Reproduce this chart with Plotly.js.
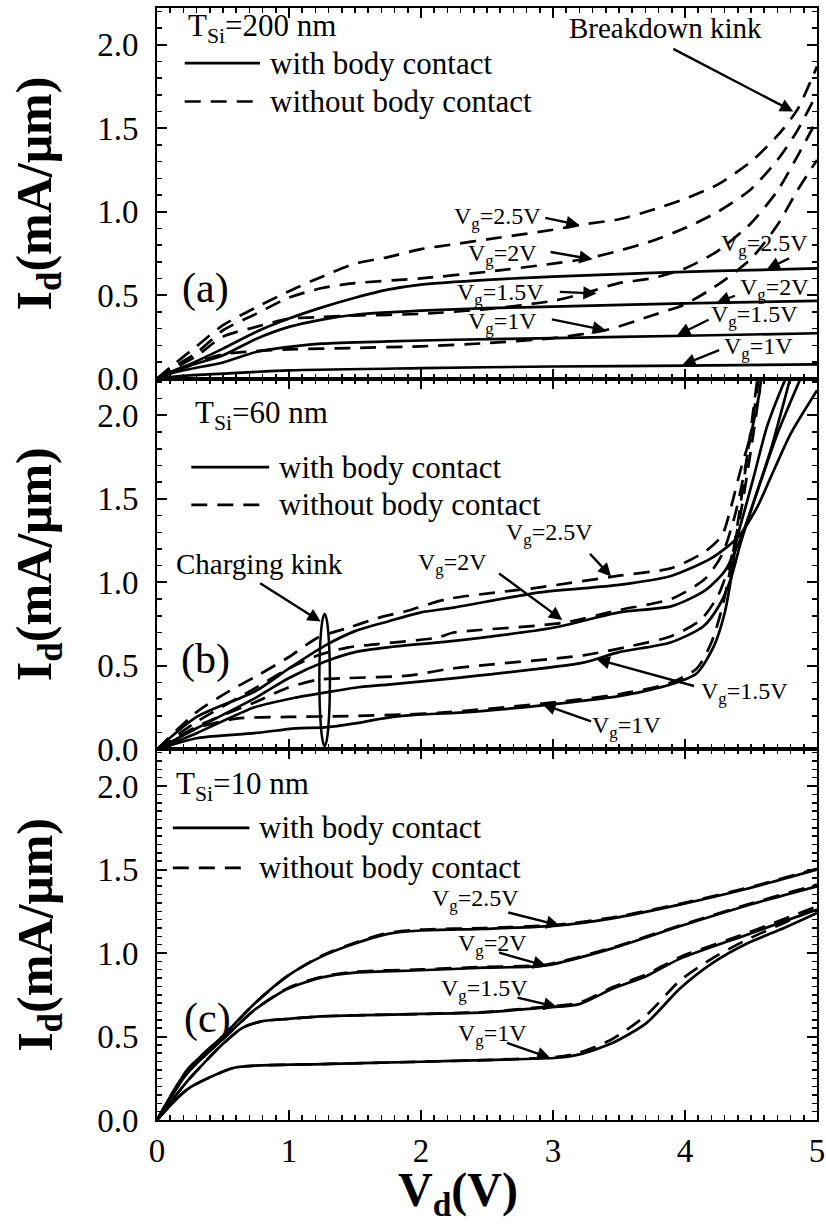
<!DOCTYPE html>
<html>
<head>
<meta charset="utf-8">
<script src="https://cdn.plot.ly/plotly-3.0.1.min.js"></script>
<style>html,body{margin:0;padding:0;background:#fff;}#chart{width:826px;height:1229px;}</style>
</head>
<body>
<div id="chart"></div>
<script>
// ---------- Panel (a): T_Si = 200 nm ----------
const a_bc_1_x  = [0,0.1,0.25,0.5,1,2,3,4,5];
const a_bc_1_y  = [0,0.01,0.02,0.03,0.05,0.063,0.073,0.078,0.085];
const a_bc_15_x = [0,0.1,0.25,0.5,0.75,1,1.25,1.75,2.25,3,4,5];
const a_bc_15_y = [0,0.03,0.058,0.097,0.16,0.19,0.21,0.223,0.233,0.243,0.257,0.272];
const a_bc_2_x  = [0,0.1,0.25,0.5,0.75,1,1.25,1.5,2,2.5,3,4,5];
const a_bc_2_y  = [0,0.034,0.078,0.14,0.238,0.31,0.354,0.383,0.407,0.422,0.432,0.451,0.466];
const a_bc_25_x = [0,0.1,0.25,0.5,0.75,1,1.25,1.5,1.75,2,2.5,3,3.5,4,4.5,5];
const a_bc_25_y = [0,0.039,0.087,0.18,0.28,0.36,0.427,0.485,0.533,0.563,0.592,0.611,0.626,0.64,0.65,0.66];

const a_nb_25_x = [0,0.1,0.3,0.5,0.75,1,1.25,1.5,1.75,2,2.25,2.5,3,3.25,3.5,3.75,4,4.25,4.5,4.7,4.85,5];
const a_nb_25_y = [0,0.068,0.194,0.32,0.427,0.524,0.611,0.689,0.728,0.776,0.805,0.834,0.892,0.926,0.955,1.01,1.077,1.164,1.3,1.455,1.61,1.87];
const a_nb_2_x  = [0,0.1,0.3,0.5,0.75,1,1.25,1.5,2,2.5,3,3.25,3.5,3.75,4,4.25,4.5,4.7,4.85,5];
const a_nb_2_y  = [0,0.058,0.155,0.29,0.388,0.485,0.543,0.572,0.601,0.64,0.689,0.718,0.766,0.825,0.902,1.0,1.135,1.31,1.484,1.71];
const a_nb_15_x = [0,0.1,0.3,0.5,0.75,1,1.25,1.5,2,2.5,3,3.25,3.5,3.75,4,4.25,4.5,4.7,4.85,5];
const a_nb_15_y = [0,0.048,0.136,0.252,0.31,0.359,0.369,0.378,0.388,0.417,0.466,0.514,0.572,0.601,0.66,0.766,0.931,1.125,1.33,1.55];
const a_nb_1_x  = [0,0.1,0.3,0.5,0.75,1,1.5,2,2.5,3,3.4,3.75,4,4.25,4.5,4.7,4.85,5];
const a_nb_1_y  = [0,0.039,0.097,0.146,0.165,0.175,0.184,0.194,0.213,0.243,0.291,0.378,0.446,0.563,0.718,0.92,1.125,1.31];

// ---------- Panel (b): T_Si = 60 nm ----------
const b_bc_25_x = [0,0.3,0.75,1,1.27,1.5,1.75,2,2.25,2.9,3.5,3.9,4.2,4.4,4.55,4.65,4.8,5];
const b_bc_25_y = [0,0.194,0.35,0.485,0.62,0.708,0.766,0.82,0.849,0.94,0.985,1.04,1.145,1.27,1.455,1.63,1.89,2.15];
const b_nb_25_x = [0,0.3,0.55,0.77,1,1.22,1.45,1.67,1.9,2.2,2.9,3.5,3.9,4.15,4.28,4.35,4.42,4.5,4.6];
const b_nb_25_y = [0,0.223,0.35,0.446,0.553,0.67,0.728,0.786,0.83,0.9,0.97,1.04,1.086,1.183,1.28,1.455,1.67,1.89,2.28];
const b_bc_2_x  = [0,0.3,0.75,1,1.27,1.5,1.75,2.25,3,3.5,3.9,4.15,4.3,4.42,4.55,4.7,4.88];
const b_bc_2_y  = [0,0.126,0.31,0.427,0.524,0.582,0.611,0.65,0.728,0.82,0.858,0.95,1.067,1.26,1.55,1.89,2.23];
const b_nb_2_x  = [0,0.3,0.77,1,1.22,1.45,1.67,2.13,2.24,3.07,3.5,3.9,4.15,4.28,4.38,4.47,4.56];
const b_nb_2_y  = [0,0.165,0.378,0.485,0.563,0.611,0.63,0.67,0.698,0.757,0.834,0.902,1.02,1.164,1.407,1.746,2.23];
const b_bc_15_x = [0,0.3,0.74,1.05,1.27,1.5,1.75,2.26,3.23,3.5,3.89,4.14,4.26,4.35,4.42,4.55,4.65,4.8];
const b_bc_15_y = [0,0.097,0.252,0.31,0.34,0.369,0.388,0.427,0.519,0.582,0.64,0.737,0.863,1.028,1.232,1.552,1.795,2.23];
const b_nb_15_x = [0,0.3,0.77,0.99,1.22,1.45,1.9,2.24,3.23,3.6,3.9,4.12,4.25,4.34,4.42,4.5,4.58];
const b_nb_15_y = [0,0.136,0.291,0.369,0.417,0.427,0.441,0.485,0.563,0.62,0.679,0.776,0.92,1.115,1.407,1.795,2.23];
const b_bc_1_x  = [0,0.31,0.74,1.05,1.27,1.5,1.75,2,2.26,2.9,3.51,3.89,4.09,4.22,4.3,4.35,4.39,4.45,4.52,4.62,4.73,4.78];
const b_bc_1_y  = [0,0.068,0.097,0.126,0.131,0.155,0.19,0.209,0.218,0.262,0.32,0.388,0.456,0.62,0.815,1.028,1.25,1.426,1.63,1.93,2.16,2.25];
const b_nb_1_x  = [0,0.3,0.6,1,1.45,1.9,2.13,2.9,3.5,3.89,4.09,4.2,4.28,4.34,4.4,4.47,4.55];
const b_nb_1_y  = [0,0.126,0.184,0.194,0.199,0.209,0.218,0.272,0.33,0.398,0.485,0.64,0.844,1.067,1.358,1.746,2.23];

// ---------- Panel (c): T_Si = 10 nm ----------
const c_bc_1_x  = [0,0.23,0.57,0.74,1.25,2,2.48,3.03,3.2,3.45,3.71,3.96,4.21,4.47,4.75,5];
const c_bc_1_y  = [0,0.184,0.31,0.325,0.335,0.349,0.359,0.373,0.393,0.461,0.582,0.786,0.941,1.057,1.15,1.24];
const c_nb_1_x  = [0,0.23,0.57,0.74,1.25,2,2.48,3.03,3.2,3.45,3.71,3.96,4.21,4.47,4.75,5];
const c_nb_1_y  = [0,0.184,0.31,0.325,0.335,0.349,0.359,0.378,0.403,0.485,0.63,0.834,0.97,1.08,1.18,1.27];
const c_bc_15_x = [0,0.23,0.5,0.65,0.8,1.0,1.25,2,2.48,2.95,3.2,3.45,3.71,3.96,4.47,5];
const c_bc_15_y = [0,0.233,0.456,0.553,0.592,0.606,0.621,0.635,0.645,0.674,0.694,0.786,0.863,0.965,1.11,1.26];
const c_nb_15_x = [0,0.23,0.5,0.65,0.8,1.0,1.25,2,2.48,2.95,3.2,3.45,3.71,3.96,4.47,5];
const c_nb_15_y = [0,0.233,0.456,0.553,0.592,0.606,0.621,0.635,0.647,0.679,0.703,0.795,0.873,0.975,1.12,1.28];
const c_bc_2_x  = [0,0.23,0.5,0.74,0.99,1.25,1.5,2,2.48,2.95,3.45,3.96,4.47,5];
const c_bc_2_y  = [0,0.281,0.485,0.66,0.786,0.854,0.883,0.897,0.912,0.926,1.028,1.16,1.285,1.40];
const c_nb_2_x  = [0,0.23,0.5,0.74,0.99,1.25,1.5,2,2.48,2.95,3.45,3.96,4.47,5];
const c_nb_2_y  = [0,0.281,0.485,0.66,0.79,0.858,0.888,0.902,0.917,0.931,1.033,1.165,1.29,1.41];
const c_bc_25_x = [0,0.23,0.5,0.74,0.99,1.25,1.5,1.75,2,2.48,3.03,3.45,3.96,4.47,5];
const c_bc_25_y = [0,0.3,0.504,0.698,0.863,0.98,1.057,1.115,1.135,1.145,1.164,1.208,1.29,1.385,1.50];
const c_nb_25_x = [0,0.23,0.5,0.74,0.99,1.25,1.5,1.75,2,2.48,3.03,3.45,3.96,4.47,5];
const c_nb_25_y = [0,0.3,0.504,0.698,0.863,0.985,1.062,1.12,1.14,1.15,1.169,1.213,1.295,1.39,1.505];

// tick settings
const xTickVals = [0,1,2,3,4,5];
const yTickVals = [0,0.5,1.0,1.5,2.0];

const FONT = 'Liberation Serif, Times New Roman, serif';
const DASH = '16px,10px';

function curve(x, y, panel, dashed) {
  const ax = panel === 1 ? '' : String(panel);
  return {
    x: x, y: y, xaxis: 'x' + ax, yaxis: 'y' + ax, mode: 'lines',
    line: {color: '#000', width: 2.7, dash: dashed ? DASH : 'solid', shape: 'spline', smoothing: 0.7},
    hoverinfo: 'skip', showlegend: false
  };
}

const traces = [
  curve(a_bc_1_x, a_bc_1_y, 1, false), curve(a_bc_15_x, a_bc_15_y, 1, false),
  curve(a_bc_2_x, a_bc_2_y, 1, false), curve(a_bc_25_x, a_bc_25_y, 1, false),
  curve(a_nb_1_x, a_nb_1_y, 1, true), curve(a_nb_15_x, a_nb_15_y, 1, true),
  curve(a_nb_2_x, a_nb_2_y, 1, true), curve(a_nb_25_x, a_nb_25_y, 1, true),
  curve(b_bc_1_x, b_bc_1_y, 2, false), curve(b_bc_15_x, b_bc_15_y, 2, false),
  curve(b_bc_2_x, b_bc_2_y, 2, false), curve(b_bc_25_x, b_bc_25_y, 2, false),
  curve(b_nb_1_x, b_nb_1_y, 2, true), curve(b_nb_15_x, b_nb_15_y, 2, true),
  curve(b_nb_2_x, b_nb_2_y, 2, true), curve(b_nb_25_x, b_nb_25_y, 2, true),
  curve(c_bc_1_x, c_bc_1_y, 3, false), curve(c_bc_15_x, c_bc_15_y, 3, false),
  curve(c_bc_2_x, c_bc_2_y, 3, false), curve(c_bc_25_x, c_bc_25_y, 3, false),
  curve(c_nb_1_x, c_nb_1_y, 3, true), curve(c_nb_15_x, c_nb_15_y, 3, true),
  curve(c_nb_2_x, c_nb_2_y, 3, true), curve(c_nb_25_x, c_nb_25_y, 3, true)
];

function xAxis(anchor, labels) {
  return {
    anchor: anchor, range: [0, 5], tickvals: xTickVals, ticks: 'inside', ticklen: 10, tickwidth: 2,
    tickcolor: '#000', showline: true, linewidth: 2, linecolor: '#000', mirror: 'allticks',
    showgrid: false, zeroline: false, showticklabels: labels,
    tickfont: {family: FONT, size: 33, color: '#000'},
    minor: {dtick: 0.1, ticks: 'inside', ticklen: 5, tickwidth: 1.5, tickcolor: '#000', showgrid: false}
  };
}
function yAxis(domain, minorDt) {
  return {
    domain: domain, range: [0, 2.22], tickvals: yTickVals, tickformat: '.1f', ticks: 'inside', ticklen: 10,
    tickwidth: 2, tickcolor: '#000', showline: true, linewidth: 2, linecolor: '#000', mirror: 'allticks',
    showgrid: false, zeroline: false, ticklabelstandoff: 10,
    tickfont: {family: FONT, size: 33, color: '#000'},
    minor: {dtick: minorDt, ticks: 'inside', ticklen: 5, tickwidth: 1.5, tickcolor: '#000', showgrid: false}
  };
}

const annotations = [];
const shapes = [];
function ref(p) { const s = p === 1 ? '' : String(p); return {xref: 'x' + s, yref: 'y' + s}; }
function txt(text, x, y, p, size, xanchor) {
  const r = ref(p);
  annotations.push({text: text, x: x, y: y, xref: r.xref, yref: r.yref, showarrow: false,
    xanchor: xanchor || 'center', yanchor: 'middle', font: {family: FONT, size: size, color: '#000'}});
}
function arrow(x0, y0, x1, y1, p) {
  const r = ref(p);
  annotations.push({text: '', x: x1, y: y1, ax: x0, ay: y0, xref: r.xref, yref: r.yref,
    axref: r.xref, ayref: r.yref, showarrow: true, arrowhead: 2, arrowsize: 1.1, arrowwidth: 2.4, arrowcolor: '#000'});
}
function legendBlock(p, tsi, xText0, yT, xLine0, xLine1, yS, yD) {
  const r = ref(p);
  txt('T<sub>Si</sub>=' + tsi, xText0, yT, p, 31, 'left');
  shapes.push({type: 'line', xref: r.xref, yref: r.yref, x0: xLine0, x1: xLine1, y0: yS, y1: yS, line: {color: '#000', width: 2.7}});
  shapes.push({type: 'line', xref: r.xref, yref: r.yref, x0: xLine0, x1: xLine1, y0: yD, y1: yD, line: {color: '#000', width: 2.7, dash: DASH}});
  txt('with body contact', xLine1 + 0.06, yS, p, 31, 'left');
  txt('without body contact', xLine1 + 0.06, yD, p, 31, 'left');
}

const VG = 24;
// Panel a
legendBlock(1, '200 nm', 0.22, 2.1, 0.21, 0.78, 1.89, 1.66);
txt('(a)', 0.37, 0.54, 1, 42);
txt('Breakdown kink', 3.85, 2.1, 1, 29);
arrow(3.9, 1.98, 4.82, 1.6, 1);
txt('V<sub>g</sub>=2.5V', 2.58, 0.96, 1, VG); arrow(2.93, 0.965, 3.2, 0.92, 1);
txt('V<sub>g</sub>=2V', 2.62, 0.74, 1, VG); arrow(2.97, 0.76, 3.3, 0.715, 1);
txt('V<sub>g</sub>=1.5V', 2.6, 0.505, 1, VG); arrow(3.04, 0.52, 3.33, 0.51, 1);
txt('V<sub>g</sub>=1V', 2.62, 0.335, 1, VG); arrow(2.98, 0.357, 3.4, 0.29, 1);
txt('V<sub>g</sub>=2.5V', 4.6, 0.80, 1, VG); arrow(4.8, 0.725, 4.62, 0.655, 1);
txt('V<sub>g</sub>=2V', 4.68, 0.54, 1, VG); arrow(4.39, 0.5, 4.24, 0.455, 1);
txt('V<sub>g</sub>=1.5V', 4.53, 0.377, 1, VG); arrow(4.19, 0.357, 3.94, 0.26, 1);
txt('V<sub>g</sub>=1V', 4.56, 0.183, 1, VG); arrow(4.27, 0.174, 3.98, 0.082, 1);

// Panel b
legendBlock(2, '60 nm', 0.27, 2.0, 0.26, 0.85, 1.69, 1.464);
txt('(b)', 0.37, 0.54, 2, 42);
txt('Charging kink', 0.78, 1.11, 2, 29);
arrow(0.77, 1.0, 1.24, 0.765, 2);
shapes.push({type: 'circle', xref: 'x2', yref: 'y2', x0: 1.23, x1: 1.31, y0: 0.02, y1: 0.81, line: {color: '#000', width: 2.5}});
txt('V<sub>g</sub>=2.5V', 2.97, 1.29, 2, VG); arrow(3.27, 1.18, 3.44, 1.035, 2);
txt('V<sub>g</sub>=2V', 2.24, 1.11, 2, VG); arrow(2.58, 1.06, 3.07, 0.775, 2);
txt('V<sub>g</sub>=1.5V', 4.45, 0.34, 2, VG); arrow(4.08, 0.377, 3.33, 0.54, 2);
txt('V<sub>g</sub>=1V', 3.56, 0.135, 2, VG); arrow(3.3, 0.165, 2.92, 0.27, 2);

// Panel c
legendBlock(3, '10 nm', 0.13, 2.0, 0.12, 0.7, 1.75, 1.51);
txt('(c)', 0.38, 0.61, 3, 42);
txt('V<sub>g</sub>=2.5V', 2.41, 1.32, 3, VG); arrow(2.65, 1.245, 3.05, 1.165, 3);
txt('V<sub>g</sub>=2V', 2.54, 1.05, 3, VG); arrow(2.58, 1.005, 2.95, 0.922, 3);
txt('V<sub>g</sub>=1.5V', 2.48, 0.78, 3, VG); arrow(2.72, 0.735, 3.03, 0.677, 3);
txt('V<sub>g</sub>=1V', 2.54, 0.51, 3, VG); arrow(2.64, 0.465, 2.98, 0.372, 3);

// Axis titles
const yTitle = '<b>I<sub>d</sub>(mA/μm)</b>';
[5/6, 1/2, 1/6].forEach(function (yc) {
  annotations.push({text: yTitle, xref: 'paper', yref: 'paper', x: -0.18, y: yc, textangle: -90,
    showarrow: false, xanchor: 'center', yanchor: 'middle', font: {family: FONT, size: 50, color: '#000'}});
});
annotations.push({text: '<b>V<sub>d</sub>(V)</b>', xref: 'paper', yref: 'paper', x: 0.456, y: -0.066,
  showarrow: false, xanchor: 'center', yanchor: 'middle', font: {family: FONT, size: 48, color: '#000'}});

const layout = {
  width: 826, height: 1229,
  margin: {l: 157, r: 9, t: 8, b: 109},
  paper_bgcolor: '#fff', plot_bgcolor: '#fff',
  showlegend: false,
  xaxis: xAxis('y', false), xaxis2: xAxis('y2', false), xaxis3: xAxis('y3', true),
  yaxis: yAxis([2/3, 1], 0.1), yaxis2: yAxis([1/3, 2/3], 0.1), yaxis3: yAxis([0, 1/3], 0.05),
  annotations: annotations, shapes: shapes
};
layout.xaxis2.matches = 'x'; layout.xaxis3.matches = 'x';

Plotly.newPlot('chart', traces, layout, {staticPlot: true, displayModeBar: false});
</script>
</body>
</html>
